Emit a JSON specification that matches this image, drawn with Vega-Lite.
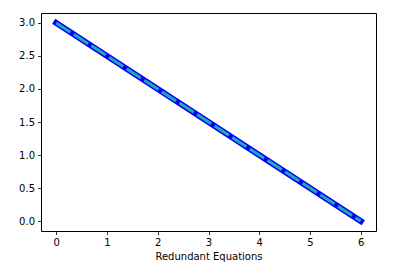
{
  "$schema": "https://vega.github.io/schema/vega-lite/v6.json",
  "width": 335,
  "height": 218,
  "autosize": {"type": "none"},
  "padding": {"left": 41, "top": 13, "right": 23, "bottom": 42},
  "config": {
    "view": {"stroke": "#000000", "strokeWidth": 1},
    "font": "DejaVu Sans",
    "axis": {
      "grid": false,
      "domain": false,
      "tickColor": "#000000",
      "tickSize": 3.5,
      "tickWidth": 0.8,
      "labelColor": "#000000",
      "labelFontSize": 10,
      "labelFont": "DejaVu Sans",
      "titleFont": "DejaVu Sans",
      "titleFontSize": 10,
      "titleFontWeight": "normal",
      "titleColor": "#000000",
      "labelPadding": 3
    }
  },
  "data": {"values": [
    {"x": 0, "y": 3},
    {"x": 6, "y": 0}
  ]},
  "encoding": {
    "x": {"field": "x", "type": "quantitative",
      "scale": {"domain": [-0.3, 6.3], "nice": false, "zero": false},
      "axis": {"values": [0, 1, 2, 3, 4, 5, 6], "format": "d", "title": "Redundant Equations", "titlePadding": 4}},
    "y": {"field": "y", "type": "quantitative",
      "scale": {"domain": [-0.15, 3.15], "nice": false, "zero": false},
      "axis": {"values": [0, 0.5, 1, 1.5, 2, 2.5, 3], "format": ".1f", "title": null}}
  },
  "layer": [
    {"mark": {"type": "line", "color": "#0000ff", "strokeWidth": 6, "strokeCap": "square"}},
    {"mark": {"type": "line", "color": "#22a8b0", "strokeWidth": 3, "strokeDash": [17, 4]}}
  ]
}
